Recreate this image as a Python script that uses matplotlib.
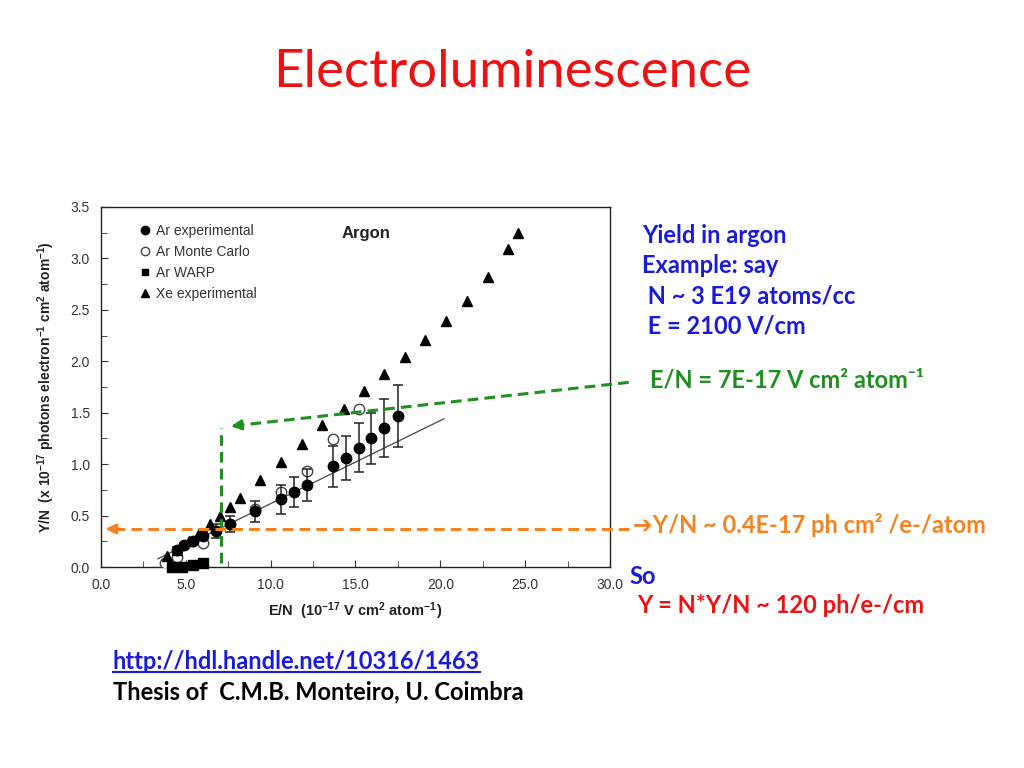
import matplotlib
matplotlib.use("Agg")
import matplotlib.pyplot as plt
from matplotlib.ticker import MultipleLocator, FormatStrFormatter
from matplotlib.lines import Line2D

plt.rcParams['mathtext.default'] = 'regular'
plt.rcParams['mathtext.fontset'] = 'custom'
plt.rcParams['mathtext.rm'] = 'Liberation Sans'
plt.rcParams['mathtext.bf'] = 'Liberation Sans:bold'

# ---------------- data ----------------
ar_exp_x = [4.5, 4.9, 5.4, 6.0, 6.8, 7.6, 9.1, 10.6, 11.4, 12.15, 13.7, 14.45, 15.2, 15.9, 16.7, 17.5]
ar_exp_y = [0.17, 0.21, 0.25, 0.30, 0.35, 0.42, 0.54, 0.66, 0.73, 0.80, 0.98, 1.06, 1.16, 1.25, 1.35, 1.47]
ar_exp_err = [0.02, 0.02, 0.03, 0.04, 0.07, 0.08, 0.10, 0.14, 0.145, 0.155, 0.20, 0.21, 0.24, 0.25, 0.28, 0.30]

ar_mc_x = [3.8, 4.5, 6.0, 9.1, 10.6, 12.15, 13.7, 15.2]
ar_mc_y = [0.04, 0.10, 0.23, 0.56, 0.73, 0.93, 1.24, 1.54]

ar_warp_x = [4.2, 4.8, 5.4, 6.0]
ar_warp_y = [0.00, 0.00, 0.015, 0.035]

xe_x = [3.9, 4.5, 5.2, 5.8, 6.4, 7.0, 7.6, 8.2, 9.4, 10.6, 11.85, 13.0, 14.3, 15.5,
        16.7, 17.9, 19.1, 20.35, 21.6, 22.8, 24.0, 24.6]
xe_y = [0.11, 0.17, 0.25, 0.33, 0.42, 0.50, 0.58, 0.67, 0.85, 1.02, 1.20, 1.38, 1.54, 1.71,
        1.88, 2.04, 2.21, 2.39, 2.59, 2.82, 3.09, 3.25]

fit_x = [3.36, 20.2]
fit_y = [0.08, 1.44]

legend_labels = ['Ar experimental', 'Ar Monte Carlo', 'Ar WARP', 'Xe experimental']

en_value = 7.08      # E/N marker
yn_value = 0.37

# ---------------- figure ----------------
fig = plt.figure(figsize=(10.24, 7.68), dpi=100)
ax = fig.add_axes([0.0986, 0.2617, 0.4971, 0.4688])

sans = ['Liberation Sans', 'DejaVu Sans']
body = ['Lato', 'DejaVu Sans']

ax.plot(fit_x, fit_y, color='#555555', lw=1.0, zorder=2)
ax.errorbar(ar_exp_x, ar_exp_y, yerr=ar_exp_err, fmt='o', color='black', ms=7.5,
            ecolor='#222222', elinewidth=1.1, capsize=3.5, capthick=1.1, zorder=4)
ax.plot(ar_mc_x, ar_mc_y, 'o', ms=7.5, mfc='white', mec='#444444', mew=1.0,
        zorder=3, linestyle='none')
ax.plot(ar_warp_x, ar_warp_y, 's', ms=6.5, color='black',
        zorder=5, clip_on=False, linestyle='none')
ax.plot(xe_x, xe_y, '^', ms=7.5, color='black', zorder=4, linestyle='none')

ax.set_xlim(0, 30)
ax.set_ylim(0, 3.5)
ax.xaxis.set_major_locator(MultipleLocator(5))
ax.xaxis.set_minor_locator(MultipleLocator(2.5))
ax.yaxis.set_major_locator(MultipleLocator(0.5))
ax.yaxis.set_minor_locator(MultipleLocator(0.25))
ax.xaxis.set_major_formatter(FormatStrFormatter('%.1f'))
ax.yaxis.set_major_formatter(FormatStrFormatter('%.1f'))
ax.tick_params(which='both', direction='in', color='#333333', labelcolor='#333333',
               labelsize=10)
ax.tick_params(which='major', length=5, pad=8)
ax.tick_params(which='minor', length=4)
for lab in ax.get_xticklabels() + ax.get_yticklabels():
    lab.set_family(sans)
for s in ax.spines.values():
    s.set_color('#222222')
    s.set_linewidth(1.0)

ax.set_xlabel(r'E/N  (10$^{-17}$ V cm$^{2}$ atom$^{-1}$)', family=sans, fontsize=10.5,
              fontweight='bold', color='#222222', labelpad=6)
ax.set_ylabel(r'Y/N  (x 10$^{-17}$ photons electron$^{-1}$ cm$^{2}$ atom$^{-1}$)',
              family=sans, fontsize=10, fontweight='bold', color='#222222', labelpad=10)

ax.text(0.473, 0.925, 'Argon', transform=ax.transAxes, family=sans, fontsize=12,
        fontweight='bold', color='#222222', va='center', ha='left')

handles = [
    Line2D([], [], marker='o', ls='none', ms=6, color='black'),
    Line2D([], [], marker='o', ls='none', ms=6, mfc='white', mec='#444444'),
    Line2D([], [], marker='s', ls='none', ms=5, color='black'),
    Line2D([], [], marker='^', ls='none', ms=6, color='black'),
]
leg = ax.legend(handles, legend_labels, loc='upper left', bbox_to_anchor=(0.075, 0.952),
                frameon=False, borderaxespad=0, borderpad=0, handlelength=0.8,
                handletextpad=0.4, labelspacing=0.5, prop={'family': sans, 'size': 10})
for t in leg.get_texts():
    t.set_color('#333333')

# ---------------- annotation dashes ----------------
green = '#1f8f1f'
orange = '#f5821f'
ax.plot([en_value, en_value], [0.04, 1.35], ls=(0, (3.5, 2)), color=green, lw=2.2,
        clip_on=False, zorder=6)
gx0, gy0 = 31.1, 1.795
gx1, gy1 = 7.7, 1.37
ax.plot([gx0, gx1], [gy0, gy1], ls=(0, (3.5, 2)), color=green, lw=2.2,
        clip_on=False, zorder=6)
ax.annotate('', xy=(gx1 - 0.2, gy1 - 0.004), xytext=(gx1 + 0.8, gy1 + 0.015),
            arrowprops=dict(arrowstyle='-|>,head_length=0.6,head_width=0.3',
                            color=green, lw=2.0), annotation_clip=False)
ax.plot([31.1, 0.5], [yn_value, yn_value], ls=(0, (3.5, 2)), color=orange, lw=2.2,
        clip_on=False, zorder=6)
ax.annotate('', xy=(0.1, yn_value), xytext=(1.2, yn_value),
            arrowprops=dict(arrowstyle='-|>,head_length=0.6,head_width=0.3',
                            color=orange, lw=2.0), annotation_clip=False)

# ---------------- slide texts ----------------
fig.text(0.5, 0.905, 'Electroluminescence', family=body, fontsize=38, color='#ee1111',
         ha='center', va='center')

blue = '#1a1add'
fs = 17
lines = ['Yield in argon', 'Example: say', ' N ~ 3 E19 atoms/cc', ' E = 2100 V/cm']
ys = [0.694, 0.654, 0.615, 0.575]
for s_, yv in zip(lines, ys):
    fig.text(0.627, yv, s_, family=body, fontsize=fs, fontweight='bold', color=blue,
             va='center', ha='left')

fig.text(0.635, 0.505, 'E/N = 7E-17 V cm² atom⁻¹', family=body, fontsize=fs,
         fontweight='bold', color=green, va='center', ha='left')
fig.text(0.618, 0.317, '➔Y/N ~ 0.4E-17 ph cm² /e-/atom', family=body, fontsize=fs,
         fontweight='bold', color=orange, va='center', ha='left')
fig.text(0.615, 0.249, 'So', family=body, fontsize=fs, fontweight='bold', color=blue,
         va='center', ha='left')
fig.text(0.622, 0.211, 'Y = N*Y/N ~ 120 ph/e-/cm', family=body, fontsize=fs,
         fontweight='bold', color='#ee1111', va='center', ha='left')

link = fig.text(0.110, 0.139, 'http://hdl.handle.net/10316/1463', family=body,
                fontsize=fs, fontweight='bold', color=blue, va='center', ha='left')
fig.canvas.draw()
bb = link.get_window_extent()
inv = fig.transFigure.inverted()
(ux0, uy0), (ux1, uy1) = inv.transform([(bb.x0, bb.y0 + 1), (bb.x1, bb.y0 + 1)])
fig.add_artist(Line2D([ux0, ux1], [uy0, uy1], color=blue, lw=1.5))
fig.text(0.110, 0.099, 'Thesis of  C.M.B. Monteiro, U. Coimbra', family=body,
         fontsize=fs, fontweight='bold', color='black', va='center', ha='left')

fig.savefig('out.png', dpi=100)
